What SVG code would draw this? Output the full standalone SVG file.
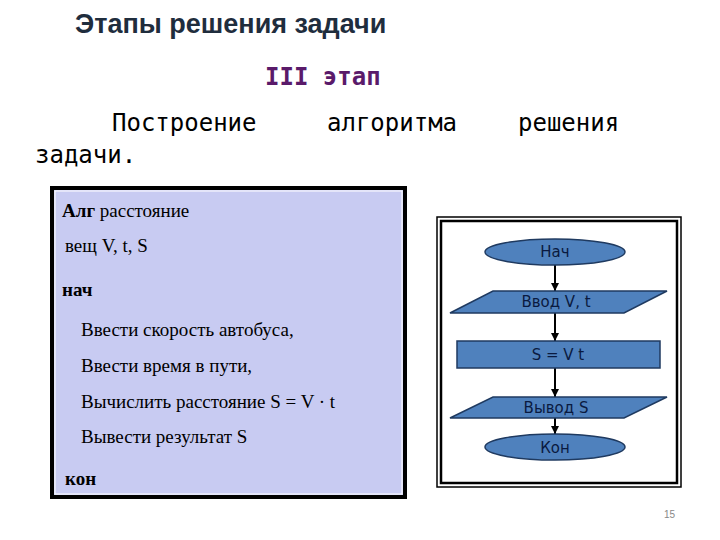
<svg xmlns="http://www.w3.org/2000/svg" width="720" height="540" viewBox="0 0 720 540">
<style>
.h{font-family:"DejaVu Sans Mono","Liberation Mono",monospace;font-size:24px;fill:#000}
.t{font-family:"Liberation Serif",serif;font-size:19px;fill:#000}
.b{font-weight:bold}
.sh{fill:#4f81bd;stroke:#1f3a60;stroke-width:1.5}
.lb{font-family:"DejaVu Sans",sans-serif;font-size:15px;fill:#0a1a40;text-anchor:middle}
.c{stroke:#000;stroke-width:2;fill:none;marker-end:url(#a)}
</style>
<defs><marker id="a" viewBox="0 0 10 10" refX="10" refY="5" markerWidth="4" markerHeight="4" orient="auto"><path d="M0,0L10,5L0,10z" fill="#000"/></marker></defs>
<rect width="720" height="540" fill="#fff"/>
<text x="75" y="33" font-family="Liberation Sans,sans-serif" font-size="27" font-weight="bold" fill="#1f2d3d">Этапы решения задачи</text>
<text x="265" y="85" class="h" style="fill:#5a1a6a;font-weight:bold">III этап</text>
<text x="112" y="131" class="h">Построение</text>
<text x="327" y="131" class="h">алгоритма</text>
<text x="518" y="131" class="h">решения</text>
<text x="35" y="163" class="h">задачи.</text>
<g id="code">
<rect x="52" y="188" width="353" height="309" fill="#c8cbf2" stroke="#000" stroke-width="4"/>
<rect x="55" y="191" width="347" height="303" fill="none" stroke="#fff" stroke-width="1"/>
<text x="62" y="217" class="t" font-size="22"><tspan class="b">Алг</tspan> расстояние</text>
<text x="65" y="252" class="t">вещ V, t, S</text>
<text x="62" y="296" class="t b" font-size="22">нач</text>
<text x="81" y="336" class="t">Ввести скорость автобуса,</text>
<text x="81" y="372" class="t">Ввести время в пути,</text>
<text x="81" y="408" class="t">Вычислить расстояние S = V · t</text>
<text x="81" y="443" class="t">Вывести результат S</text>
<text x="65" y="485" class="t b" font-size="22">кон</text>
</g>
<g id="frame">
<rect x="437" y="217" width="244" height="270" fill="#fff" stroke="#000" stroke-width="1.5"/>
<rect x="441" y="221" width="236" height="262" fill="none" stroke="#000" stroke-width="2.5"/>
</g>
<g id="connectors">
<line x1="555" y1="265" x2="555" y2="291" class="c"/>
<line x1="555" y1="313" x2="555" y2="341" class="c"/>
<line x1="555" y1="368" x2="555" y2="397" class="c"/>
<line x1="555" y1="418" x2="555" y2="434" class="c"/>
</g>
<g id="n1"><ellipse cx="555" cy="252" rx="70" ry="13" class="sh"/><text x="555" y="257" class="lb">Нач</text></g>
<g id="n2"><polygon points="450,313 493,291 667,291 624,313" class="sh"/><text x="556" y="307" class="lb">Ввод V, t</text></g>
<g id="n3"><rect x="457" y="341" width="203" height="27" class="sh"/><text x="558" y="360" class="lb">S = V t</text></g>
<g id="n4"><polygon points="450,418 493,397 667,397 624,418" class="sh"/><text x="556" y="413" class="lb">Вывод S</text></g>
<g id="n5"><ellipse cx="555" cy="447" rx="70" ry="13" class="sh"/><text x="555" y="453" class="lb">Кон</text></g>
<text x="664" y="518" font-family="Liberation Sans,sans-serif" font-size="10" fill="#888">15</text>
</svg>
